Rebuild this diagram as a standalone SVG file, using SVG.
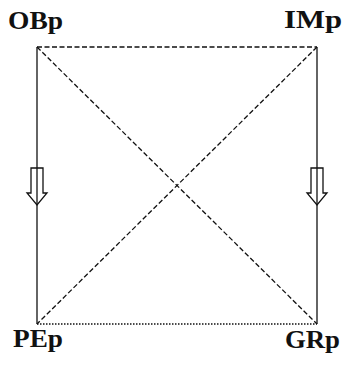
<svg xmlns="http://www.w3.org/2000/svg" width="345" height="366" viewBox="0 0 345 366">
<style>
.lbl{font-family:"Liberation Serif","Times New Roman",serif;font-weight:bold;font-size:25px;fill:#111}
.ln{stroke:#111;stroke-width:1.3;fill:none}
.dash{stroke-dasharray:5,2.5}
.dot{stroke-dasharray:1.5,1.5}
.arr{fill:#fff;stroke:#111;stroke-width:1.3;stroke-linejoin:miter}
</style>
<rect width="345" height="366" fill="#fff"/>
<g id="connectors">
<line class="ln dash" x1="37" y1="47" x2="317" y2="47"/>
<line class="ln" x1="37" y1="47" x2="37" y2="324"/>
<line class="ln" x1="317" y1="47" x2="317" y2="324"/>
<line class="ln dot" x1="37" y1="324" x2="317" y2="324"/>
<line class="ln dash" x1="37" y1="47" x2="317" y2="324"/>
<line class="ln dash" x1="317" y1="47" x2="37" y2="324"/>
<polygon class="arr" points="31,168 43,168 43,193 47,193 37,205 27,193 31,193"/>
<polygon class="arr" points="311,168 323,168 323,193 327,193 317,205 307,193 311,193"/>
<line class="ln" x1="37" y1="168" x2="37" y2="205"/>
<line class="ln" x1="317" y1="168" x2="317" y2="205"/>
</g>
<g id="OBp"><text class="lbl" x="8" y="29" textLength="55" lengthAdjust="spacingAndGlyphs">OBp</text></g>
<g id="IMp"><text class="lbl" x="284" y="28" textLength="58" lengthAdjust="spacingAndGlyphs">IMp</text></g>
<g id="PEp"><text class="lbl" x="13" y="347" textLength="50" lengthAdjust="spacingAndGlyphs">PEp</text></g>
<g id="GRp"><text class="lbl" x="285" y="348" textLength="55" lengthAdjust="spacingAndGlyphs">GRp</text></g>
</svg>
